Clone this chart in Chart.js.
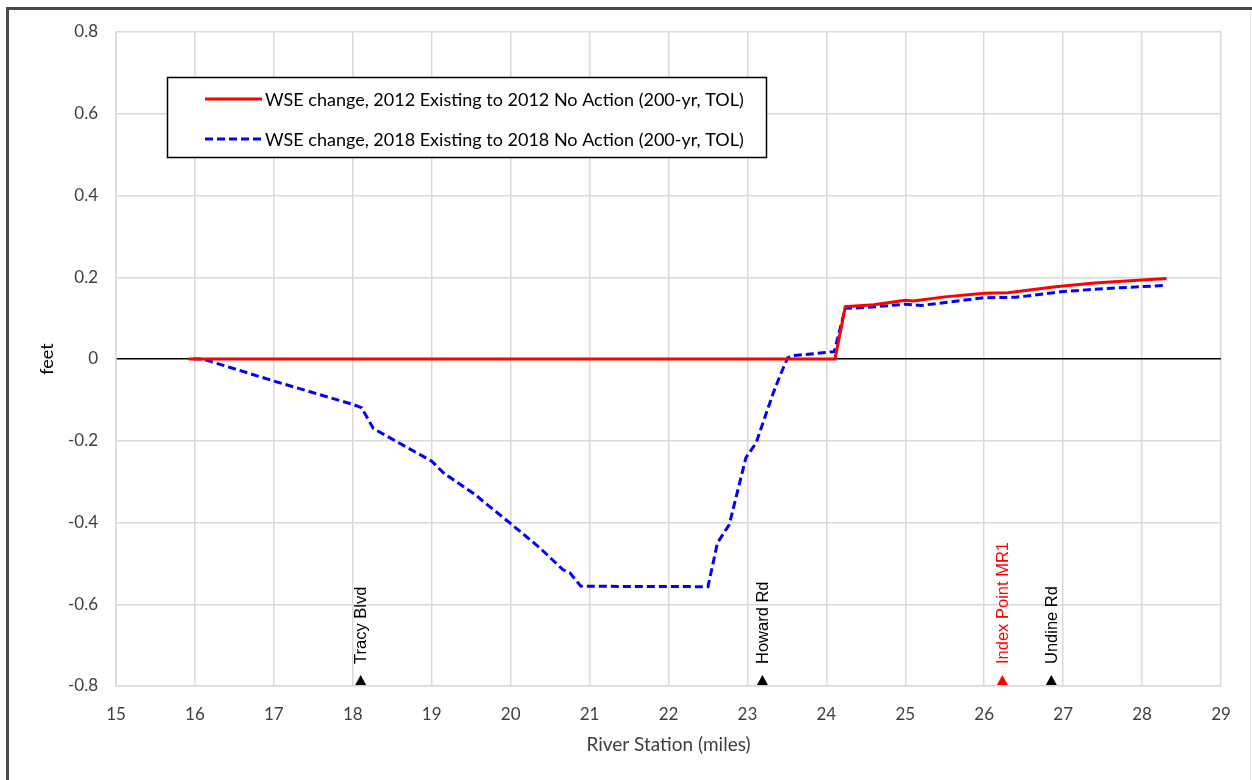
<!DOCTYPE html>
<html>
<head>
<meta charset="utf-8">
<script src="https://cdn.jsdelivr.net/npm/chart.js@4.4.1/dist/chart.umd.min.js"></script>
<style>
  html, body { margin: 0; padding: 0; background: #fff; }
  #wrap { width: 1252px; height: 780px; }
</style>
</head>
<body>
<div id="wrap"><canvas id="chart" width="1252" height="780"></canvas></div>
<script>
// river station (miles) / WSE change (feet)
const redX = [15.92, 24.11, 24.24, 24.6, 25.0, 25.1, 25.5, 26.0, 26.3, 26.9, 27.4, 28.0, 28.31];
const redY = [0, 0, 0.128, 0.133, 0.144, 0.142, 0.152, 0.161, 0.162, 0.177, 0.186, 0.193, 0.197];

const blueX = [15.98, 16.1, 17.0, 18.0, 18.11, 18.26, 19.0, 19.19, 19.22, 19.56, 19.65, 19.99, 20.37, 20.66, 20.75, 20.89,
  22.5, 22.62, 22.77, 22.98, 23.11, 23.32, 23.41, 23.51, 23.57, 24.1, 24.24, 24.5, 25.0, 25.2, 26.0, 26.4, 27.0, 27.5, 28.0, 28.31];
const blueY = [0, 0, -0.054, -0.111, -0.119, -0.17, -0.25, -0.286, -0.288, -0.333, -0.348, -0.401, -0.462, -0.515, -0.523, -0.556,
  -0.557, -0.45, -0.405, -0.242, -0.205, -0.087, -0.042, 0.003, 0.008, 0.018, 0.124, 0.126, 0.134, 0.131, 0.15, 0.151, 0.165, 0.172, 0.177, 0.18];

const seriesNames = [
  'WSE change, 2012 Existing to 2012 No Action (200-yr, TOL)',
  'WSE change, 2018 Existing to 2018 No Action (200-yr, TOL)'
];

// landmarks along the river
const markerX = [18.1, 23.19, 26.23, 26.85];
const markerLabels = ['Tracy Blvd', 'Howard Rd', 'Index Point MR1', 'Undine Rd'];
const markerColors = ['#000000', '#000000', '#ff0000', '#000000'];

const toPts = (xs, ys) => xs.map((x, i) => ({ x: x, y: ys[i] }));

const frame = {
  id: 'frame',
  beforeDraw(chart) {
    const ctx = chart.ctx;
    ctx.save();
    ctx.fillStyle = '#fff';
    ctx.fillRect(0, 0, chart.width, chart.height);
    ctx.restore();
  },
  afterDraw(chart) {
    const ctx = chart.ctx;
    ctx.save();
    ctx.strokeStyle = '#4a4a4a';
    ctx.lineWidth = 3;
    ctx.beginPath();
    ctx.moveTo(7.5, chart.height);
    ctx.lineTo(7.5, 8.5);
    ctx.lineTo(chart.width, 8.5);
    ctx.stroke();
    ctx.strokeStyle = '#e6e6e6';
    ctx.lineWidth = 1;
    ctx.beginPath();
    ctx.moveTo(1250.5, 10);
    ctx.lineTo(1250.5, chart.height);
    ctx.stroke();
    ctx.restore();
  }
};

const landmarks = {
  id: 'landmarks',
  afterDatasetsDraw(chart) {
    const ctx = chart.ctx;
    const xs = chart.scales.x, ys = chart.scales.y;
    const base = ys.getPixelForValue(ys.min);
    ctx.save();
    markerX.forEach((v, i) => {
      const px = xs.getPixelForValue(v);
      ctx.fillStyle = markerColors[i];
      ctx.beginPath();
      ctx.moveTo(px - 5.5, base - 1);
      ctx.lineTo(px + 5.5, base - 1);
      ctx.lineTo(px, base - 11);
      ctx.closePath();
      ctx.fill();
      ctx.save();
      ctx.translate(px + 1, base - 22);
      ctx.rotate(-Math.PI / 2);
      ctx.font = '16.5px "Liberation Sans", Arial, sans-serif';
      ctx.textAlign = 'left';
      ctx.textBaseline = 'middle';
      ctx.fillText(markerLabels[i], 0, 0);
      ctx.restore();
    });
    ctx.restore();
  }
};

const boxLegend = {
  id: 'boxLegend',
  afterDraw(chart) {
    const ctx = chart.ctx;
    ctx.save();
    ctx.fillStyle = '#fff';
    ctx.fillRect(167, 77, 600, 81);
    ctx.strokeStyle = '#000';
    ctx.lineWidth = 1.5;
    ctx.strokeRect(167.5, 77.5, 599, 80);
    ctx.font = '18px Lato, "Open Sans", sans-serif';
    ctx.textBaseline = 'middle';
    ctx.fillStyle = '#000';
    chart.data.datasets.slice(0, 2).forEach((ds, i) => {
      const y = 99 + i * 40;
      ctx.strokeStyle = ds.borderColor;
      ctx.lineWidth = ds.borderWidth;
      ctx.setLineDash(ds.borderDash || []);
      ctx.beginPath();
      ctx.moveTo(205, y);
      ctx.lineTo(262, y);
      ctx.stroke();
      ctx.setLineDash([]);
      ctx.fillText(ds.label, 265, y + 1);
    });
    ctx.restore();
  }
};

new Chart(document.getElementById('chart'), {
  type: 'scatter',
  data: {
    datasets: [
      {
        label: seriesNames[0],
        data: toPts(redX, redY),
        showLine: true,
        borderColor: '#ff0000',
        borderWidth: 3,
        pointRadius: 0,
        tension: 0
      },
      {
        label: seriesNames[1],
        data: toPts(blueX, blueY),
        showLine: true,
        borderColor: '#0000ff',
        borderWidth: 3,
        borderDash: [8, 4],
        pointRadius: 0,
        tension: 0
      }
    ]
  },
  options: {
    responsive: false,
    animation: false,
    layout: { padding: { left: 0, top: 32, right: 31, bottom: 0 } },
    plugins: {
      legend: { display: false },
      tooltip: { enabled: false }
    },
    scales: {
      x: {
        type: 'linear',
        min: 15,
        max: 29,
        afterFit(s) { s.height = 94; },
        ticks: {
          stepSize: 1,
          padding: 18,
          color: '#404040',
          font: { family: 'Lato', size: 17 }
        },
        grid: { color: '#d9d9d9', lineWidth: 1.5, drawTicks: false },
        border: { color: '#d9d9d9', width: 1.5 },
        title: {
          display: true,
          text: 'River Station (miles)',
          color: '#404040',
          font: { family: 'Lato', size: 19 },
          padding: { top: 0, bottom: 24 }
        }
      },
      y: {
        min: -0.8,
        max: 0.8,
        afterFit(s) { s.width = 116; },
        ticks: {
          stepSize: 0.2,
          padding: 18,
          color: '#404040',
          font: { family: 'Lato', size: 17 },
          callback: v => {
            const r = Math.round(v * 10) / 10;
            return r === 0 ? '0' : r.toFixed(1);
          }
        },
        grid: {
          color: c => (c.tick && Math.abs(c.tick.value) < 1e-9 ? '#000000' : '#d9d9d9'),
          lineWidth: 1.5,
          drawTicks: false
        },
        border: { color: '#d9d9d9', width: 1.5 },
        title: {
          display: true,
          text: 'feet',
          color: '#000',
          font: { family: 'Lato', size: 18 },
          padding: { top: 36, bottom: 0 }
        }
      }
    }
  },
  plugins: [frame, landmarks, boxLegend]
});
</script>
</body>
</html>
